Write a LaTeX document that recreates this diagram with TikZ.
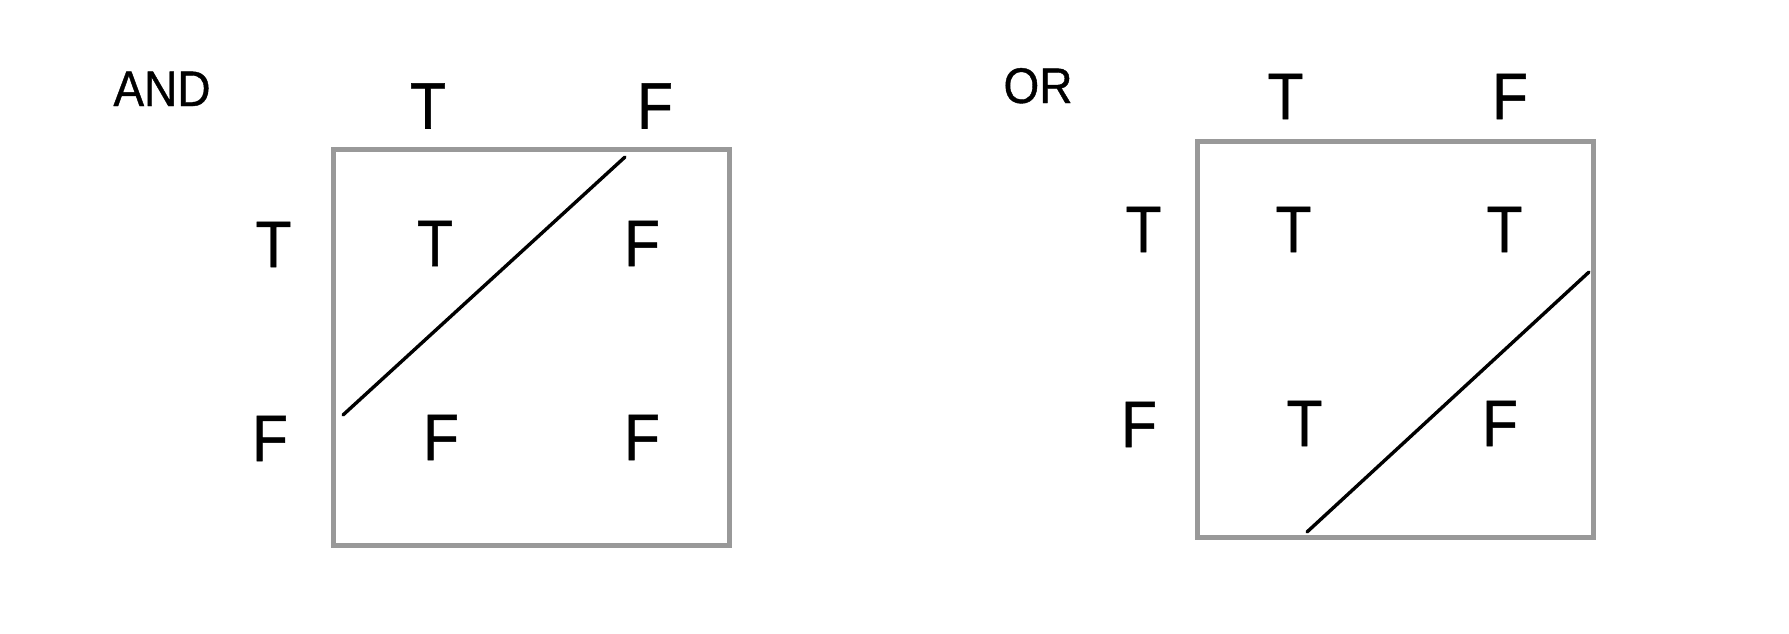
\documentclass[tikz,border=0pt]{standalone}
\usepackage{fontspec}
\setmainfont[FakeBold=0.8]{Liberation Sans}
\begin{document}
\begin{tikzpicture}[x=0.5pt,y=-0.5pt,
  cell/.style={anchor=base,inner sep=0pt,font=\fontsize{32.8pt}{36pt}\selectfont,xscale=0.9},
  title/.style={anchor=base,inner sep=0pt,font=\fontsize{25pt}{28pt}\selectfont,xscale=0.92},
  gridbox/.style={draw=black!40,line width=2.5pt,minimum width=198pt,minimum height=198pt,inner sep=0pt},
  split/.style={draw=black,line width=1.7pt,line cap=round}]
\useasboundingbox (0,0) rectangle (1789,633);
% AND table
\node[title] (andlbl) at (162,106) {AND};
\node[gridbox] (andbox) at (531,347) {};
\node[cell] (andcT) at (428,128.5) {T};
\node[cell] (andcF) at (655,128.5) {F};
\node[cell] (andrT) at (273.5,267) {T};
\node[cell] (andrF) at (270,461) {F};
\node[cell] (and11) at (435,266) {T};
\node[cell] (and12) at (642,266) {F};
\node[cell] (and21) at (441,460) {F};
\node[cell] (and22) at (642,460) {F};
\coordinate (anda) at (343,415);
\coordinate (andb) at (625,157);
\draw[split] (anda) -- (andb);
% OR table
\node[title] (orlbl) at (1038,103) {OR};
\node[gridbox] (orbox) at (1395.5,339) {};
\node[cell] (orcT) at (1285.5,119) {T};
\node[cell] (orcF) at (1510,119) {F};
\node[cell] (orrT) at (1143.5,252) {T};
\node[cell] (orrF) at (1139,447) {F};
\node[cell] (or11) at (1293.5,252) {T};
\node[cell] (or12) at (1504.5,252) {T};
\node[cell] (or21) at (1304.5,446) {T};
\node[cell] (or22) at (1500,446) {F};
\coordinate (ora) at (1307,532);
\coordinate (orb) at (1589,272);
\draw[split] (ora) -- (orb);
\end{tikzpicture}
\end{document}
